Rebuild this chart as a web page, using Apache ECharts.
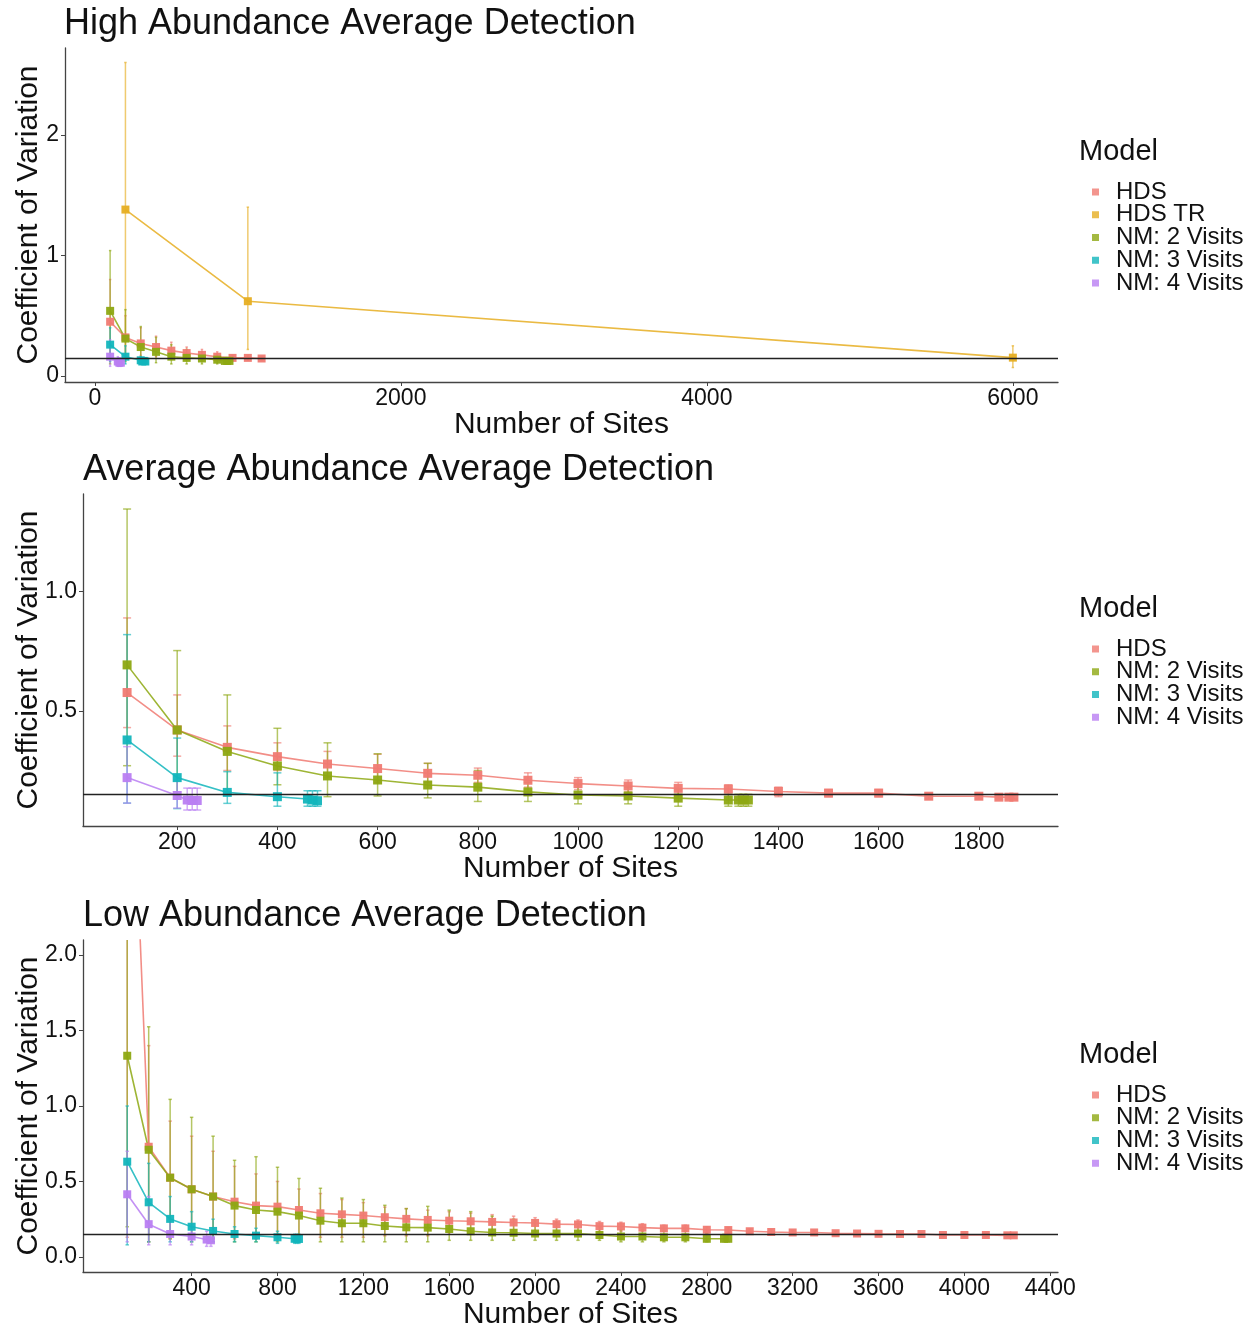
<!DOCTYPE html>
<html>
<head>
<meta charset="utf-8">
<script src="https://cdn.jsdelivr.net/npm/echarts@6/dist/echarts.min.js"></script>
<style>html,body{margin:0;padding:0;background:#fff;}#chart{width:1253px;height:1332px;}</style>
</head>
<body>
<div id="chart"></div>
<script>
// ---------- DATA ----------
const REF_CV = 0.15;
const panelTitles = ["High Abundance Average Detection", "Average Abundance Average Detection", "Low Abundance Average Detection"];
const xTicks1 = [0, 2000, 4000, 6000];
const yTicks1 = [0, 1, 2];
const xTicks2 = [200, 400, 600, 800, 1000, 1200, 1400, 1600, 1800];
const yTicks2 = [0.5, 1.0];
const xTicks3 = [400, 800, 1200, 1600, 2000, 2400, 2800, 3200, 3600, 4000, 4400];
const yTicks3 = [0.0, 0.5, 1.0, 1.5, 2.0];

// Panel 1: High abundance
const p1_HDS_x  = [100, 200, 300, 400, 500, 600, 700, 800, 900, 1000, 1090];
const p1_HDS_y  = [0.45, 0.32, 0.27, 0.24, 0.21, 0.19, 0.175, 0.16, 0.15, 0.15, 0.145];
const p1_HDS_lo = [0.15, 0.17, 0.17, 0.16, 0.15, 0.15, 0.14, 0.14, 0.13, 0.13, 0.13];
const p1_HDS_hi = [0.80, 0.50, 0.40, 0.33, 0.28, 0.24, 0.22, 0.20, 0.17, 0.17, 0.16];
const p1_TR_x  = [200, 1000, 6000];
const p1_TR_y  = [1.38, 0.62, 0.152];
const p1_TR_lo = [0.14, 0.22, 0.07];
const p1_TR_hi = [2.60, 1.40, 0.25];
const p1_NM2_x  = [100, 200, 300, 400, 500, 600, 700, 800, 850, 865, 880];
const p1_NM2_y  = [0.54, 0.31, 0.24, 0.20, 0.16, 0.15, 0.145, 0.135, 0.125, 0.125, 0.125];
const p1_NM2_lo = [0.10, 0.12, 0.12, 0.11, 0.10, 0.10, 0.10, 0.10, 0.10, 0.10, 0.10];
const p1_NM2_hi = [1.04, 0.55, 0.41, 0.32, 0.26, 0.22, 0.20, 0.18, 0.15, 0.15, 0.15];
const p1_NM3_x  = [100, 200, 300, 310, 320, 330];
const p1_NM3_y  = [0.26, 0.16, 0.13, 0.12, 0.125, 0.12];
const p1_NM3_lo = [0.12, 0.10, 0.10, 0.10, 0.10, 0.10];
const p1_NM3_hi = [0.40, 0.25, 0.16, 0.15, 0.15, 0.15];
const p1_NM4_x  = [100, 150, 160, 170];
const p1_NM4_y  = [0.16, 0.12, 0.11, 0.11];
const p1_NM4_lo = [0.08, 0.08, 0.08, 0.08];
const p1_NM4_hi = [0.30, 0.16, 0.15, 0.15];

// Panel 2: Average abundance
const p2_HDS_x  = [100, 200, 300, 400, 500, 600, 700, 800, 900, 1000, 1100, 1200, 1300, 1400, 1500, 1600, 1700, 1800, 1840, 1860, 1870];
const p2_HDS_y  = [0.577, 0.42, 0.347, 0.308, 0.277, 0.258, 0.238, 0.23, 0.209, 0.195, 0.185, 0.175, 0.172, 0.162, 0.155, 0.155, 0.142, 0.142, 0.138, 0.138, 0.138];
const p2_HDS_lo = [0.43, 0.31, 0.25, 0.25, 0.22, 0.20, 0.20, 0.20, 0.18, 0.17, 0.16, 0.15, 0.15, 0.14, 0.14, 0.14, 0.13, 0.13, 0.13, 0.13, 0.13];
const p2_HDS_hi = [0.89, 0.567, 0.437, 0.366, 0.33, 0.318, 0.28, 0.26, 0.24, 0.22, 0.21, 0.20, 0.19, 0.18, 0.17, 0.17, 0.155, 0.155, 0.15, 0.15, 0.15];
const p2_NM2_x  = [100, 200, 300, 400, 500, 600, 700, 800, 900, 1000, 1100, 1200, 1300, 1320, 1330, 1340];
const p2_NM2_y  = [0.693, 0.42, 0.33, 0.269, 0.227, 0.21, 0.189, 0.18, 0.16, 0.147, 0.143, 0.134, 0.126, 0.126, 0.126, 0.126];
const p2_NM2_lo = [0.27, 0.15, 0.16, 0.19, 0.14, 0.143, 0.135, 0.12, 0.12, 0.11, 0.11, 0.10, 0.10, 0.10, 0.10, 0.10];
const p2_NM2_hi = [1.347, 0.753, 0.567, 0.427, 0.366, 0.32, 0.28, 0.25, 0.20, 0.19, 0.18, 0.17, 0.15, 0.15, 0.15, 0.15];
const p2_NM3_x  = [100, 200, 300, 400, 460, 470, 480];
const p2_NM3_y  = [0.378, 0.22, 0.158, 0.14, 0.13, 0.126, 0.123];
const p2_NM3_lo = [0.113, 0.09, 0.112, 0.10, 0.10, 0.10, 0.10];
const p2_NM3_hi = [0.82, 0.386, 0.245, 0.24, 0.165, 0.165, 0.165];
const p2_NM4_x  = [100, 200, 220, 230, 240];
const p2_NM4_y  = [0.22, 0.145, 0.126, 0.124, 0.124];
const p2_NM4_lo = [0.113, 0.092, 0.084, 0.084, 0.084];
const p2_NM4_hi = [0.35, 0.21, 0.176, 0.176, 0.176];

// Panel 3: Low abundance
const p3_HDS_x  = [100, 200, 300, 400, 500, 600, 700, 800, 900, 1000, 1100, 1200, 1300, 1400, 1500, 1600, 1700, 1800, 1900, 2000, 2100, 2200, 2300, 2400, 2500, 2600, 2700, 2800, 2900, 3000, 3100, 3200, 3300, 3400, 3500, 3600, 3700, 3800, 3900, 4000, 4100, 4200, 4230];
const p3_HDS_y  = [4.2, 0.73, 0.525, 0.448, 0.40, 0.366, 0.34, 0.333, 0.311, 0.289, 0.282, 0.274, 0.263, 0.252, 0.245, 0.24, 0.236, 0.232, 0.228, 0.225, 0.217, 0.215, 0.204, 0.202, 0.194, 0.189, 0.189, 0.18, 0.178, 0.17, 0.165, 0.162, 0.162, 0.157, 0.155, 0.153, 0.152, 0.152, 0.145, 0.145, 0.145, 0.143, 0.143];
const p3_HDS_lo = [0.13, 0.10, 0.12, 0.12, 0.12, 0.12, 0.12, 0.12, 0.12, 0.13, 0.13, 0.13, 0.14, 0.14, 0.14, 0.15, 0.15, 0.16, 0.16, 0.17, 0.17, 0.17, 0.17, 0.17, 0.17, 0.17, 0.17, 0.16, 0.16, 0.16, 0.15, 0.15, 0.15, 0.145, 0.145, 0.145, 0.14, 0.14, 0.135, 0.135, 0.135, 0.135, 0.135];
const p3_HDS_hi = [9.0, 1.40, 0.90, 0.80, 0.70, 0.60, 0.55, 0.50, 0.45, 0.42, 0.38, 0.36, 0.33, 0.32, 0.31, 0.30, 0.29, 0.28, 0.27, 0.26, 0.25, 0.245, 0.235, 0.23, 0.22, 0.21, 0.21, 0.20, 0.195, 0.185, 0.18, 0.175, 0.175, 0.17, 0.165, 0.16, 0.16, 0.16, 0.155, 0.155, 0.155, 0.15, 0.15];
const p3_NM2_x  = [100, 200, 300, 400, 500, 600, 700, 800, 900, 1000, 1100, 1200, 1300, 1400, 1500, 1600, 1700, 1800, 1900, 2000, 2100, 2200, 2300, 2400, 2500, 2600, 2700, 2800, 2880, 2900];
const p3_NM2_y  = [1.333, 0.71, 0.525, 0.448, 0.40, 0.34, 0.311, 0.30, 0.274, 0.24, 0.223, 0.223, 0.205, 0.196, 0.194, 0.185, 0.17, 0.162, 0.16, 0.155, 0.155, 0.155, 0.145, 0.135, 0.135, 0.13, 0.13, 0.12, 0.12, 0.12];
const p3_NM2_lo = [0.20, 0.10, 0.12, 0.10, 0.10, 0.10, 0.10, 0.10, 0.10, 0.10, 0.10, 0.10, 0.10, 0.10, 0.10, 0.11, 0.11, 0.11, 0.11, 0.11, 0.11, 0.11, 0.11, 0.10, 0.10, 0.10, 0.10, 0.10, 0.10, 0.10];
const p3_NM2_hi = [2.40, 1.525, 1.044, 0.925, 0.80, 0.64, 0.664, 0.594, 0.52, 0.455, 0.39, 0.38, 0.342, 0.32, 0.335, 0.31, 0.30, 0.27, 0.25, 0.24, 0.23, 0.22, 0.20, 0.18, 0.18, 0.17, 0.17, 0.155, 0.15, 0.15];
const p3_NM3_x  = [100, 200, 300, 400, 500, 600, 700, 800, 880, 890, 900];
const p3_NM3_y  = [0.631, 0.362, 0.252, 0.20, 0.172, 0.152, 0.141, 0.13, 0.12, 0.12, 0.119];
const p3_NM3_lo = [0.08, 0.10, 0.10, 0.10, 0.10, 0.10, 0.10, 0.09, 0.09, 0.09, 0.09];
const p3_NM3_hi = [1.00, 0.62, 0.40, 0.30, 0.25, 0.20, 0.19, 0.17, 0.15, 0.15, 0.15];
const p3_NM4_x  = [100, 200, 300, 400, 470, 490];
const p3_NM4_y  = [0.415, 0.217, 0.152, 0.135, 0.115, 0.11];
const p3_NM4_lo = [0.10, 0.08, 0.08, 0.08, 0.07, 0.07];
const p3_NM4_hi = [0.70, 0.40, 0.25, 0.20, 0.17, 0.16];

// ---------- STYLE ----------
const FONT = "'Liberation Sans', Arial, sans-serif";
const COLORS = { "HDS": "#F07A72", "HDS TR": "#E6AE22", "NM: 2 Visits": "#8DA812", "NM: 3 Visits": "#12B5BC", "NM: 4 Visits": "#B97EF2" };
const CAP_HALF = 8;

const chart = echarts.init(document.getElementById('chart'), null, { renderer: 'canvas' });

const grids = [
  { left: 65, top: 48, width: 993, height: 334, outerBoundsMode: 'none', containLabel: false },
  { left: 83, top: 494, width: 975, height: 332, outerBoundsMode: 'none', containLabel: false },
  { left: 83, top: 940, width: 975, height: 332, outerBoundsMode: 'none', containLabel: false }
];
const xRanges = [[-195, 6295], [12, 1958], [-106, 4436]];
const yRanges = [[-0.05, 2.72], [0.017, 1.41], [-0.1, 2.1]];
const xTickSets = [xTicks1, xTicks2, xTicks3];
const yTickSets = [yTicks1, yTicks2, yTicks3];
const yFmt = [v => String(Math.round(v)), v => v.toFixed(1), v => v.toFixed(1)];
const yNameGap = [21, 39, 39];

const axisLineStyle = { lineStyle: { color: '#444', width: 1.3 } };
const xAxes = grids.map((g, i) => ({
  type: 'value', gridIndex: i, min: xRanges[i][0], max: xRanges[i][1],
  axisLine: { show: true, onZero: false, ...axisLineStyle },
  axisTick: { show: true, length: 4, customValues: xTickSets[i], lineStyle: { color: '#444' } },
  axisLabel: { customValues: xTickSets[i], formatter: v => String(v), color: '#111', fontSize: 23, fontFamily: FONT, margin: 5 },
  splitLine: { show: false },
  name: 'Number of Sites', nameLocation: 'middle', nameGap: 28, nameMoveOverlap: false,
  nameTextStyle: { fontSize: 30, color: '#111', fontFamily: FONT }
}));
const yAxes = grids.map((g, i) => ({
  type: 'value', gridIndex: i, min: yRanges[i][0], max: yRanges[i][1],
  axisLine: { show: true, onZero: false, ...axisLineStyle },
  axisTick: { show: true, length: 4, customValues: yTickSets[i], lineStyle: { color: '#444' } },
  axisLabel: { customValues: yTickSets[i], formatter: yFmt[i], color: '#111', fontSize: 23, fontFamily: FONT, margin: 6 },
  splitLine: { show: false },
  name: 'Coefficient of Variation', nameLocation: 'middle', nameGap: yNameGap[i], nameMoveOverlap: false,
  nameTextStyle: { fontSize: 30, color: '#111', fontFamily: FONT }
}));

const series = [];
function errRender(color) {
  return function (params, api) {
    const cs = params.coordSys;
    const top = cs.y, bot = cs.y + cs.height;
    const x = api.value(0), lo = api.value(1), hi = api.value(2);
    const pLo = api.coord([x, lo]), pHi = api.coord([x, hi]);
    const cL = api.coord([x - CAP_HALF, lo]), cR = api.coord([x + CAP_HALF, lo]);
    const hw = Math.max(1.2, (cR[0] - cL[0]) / 2);
    const yLo = Math.min(bot, Math.max(top, pLo[1]));
    const yHi = Math.min(bot, Math.max(top, pHi[1]));
    const st = { stroke: color, lineWidth: 1.5, opacity: 0.65 };
    const ch = [{ type: 'line', shape: { x1: pLo[0], y1: yLo, x2: pLo[0], y2: yHi }, style: st }];
    if (pLo[1] <= bot && pLo[1] >= top) ch.push({ type: 'line', shape: { x1: pLo[0] - hw, y1: pLo[1], x2: pLo[0] + hw, y2: pLo[1] }, style: st });
    if (pHi[1] <= bot && pHi[1] >= top) ch.push({ type: 'line', shape: { x1: pHi[0] - hw, y1: pHi[1], x2: pHi[0] + hw, y2: pHi[1] }, style: st });
    return { type: 'group', children: ch };
  };
}
function addModel(gi, name, xs, ys, los, his, withRef) {
  const color = COLORS[name];
  series.push({
    type: 'custom', name: name, xAxisIndex: gi, yAxisIndex: gi, z: 2, silent: true,
    itemStyle: { color: color },
    renderItem: errRender(color),
    data: xs.map((x, k) => [x, los[k], his[k]])
  });
  const s = {
    type: 'line', name: name, xAxisIndex: gi, yAxisIndex: gi, z: 3, clip: true,
    symbol: 'rect', symbolSize: gi === 1 ? 9 : 8, showSymbol: true,
    itemStyle: { color: color, opacity: 0.95 },
    lineStyle: { color: color, width: 1.6, opacity: 0.85 },
    emphasis: { disabled: true }, animation: false,
    data: xs.map((x, k) => [x, ys[k]])
  };
  if (withRef) {
    s.markLine = { silent: true, symbol: 'none', animation: false, label: { show: false },
      lineStyle: { color: '#222', type: 'solid', width: 1.4 }, data: [{ yAxis: REF_CV }] };
  }
  series.push(s);
}
addModel(0, 'HDS', p1_HDS_x, p1_HDS_y, p1_HDS_lo, p1_HDS_hi, true);
addModel(0, 'HDS TR', p1_TR_x, p1_TR_y, p1_TR_lo, p1_TR_hi, false);
addModel(0, 'NM: 2 Visits', p1_NM2_x, p1_NM2_y, p1_NM2_lo, p1_NM2_hi, false);
addModel(0, 'NM: 3 Visits', p1_NM3_x, p1_NM3_y, p1_NM3_lo, p1_NM3_hi, false);
addModel(0, 'NM: 4 Visits', p1_NM4_x, p1_NM4_y, p1_NM4_lo, p1_NM4_hi, false);
addModel(1, 'HDS', p2_HDS_x, p2_HDS_y, p2_HDS_lo, p2_HDS_hi, true);
addModel(1, 'NM: 2 Visits', p2_NM2_x, p2_NM2_y, p2_NM2_lo, p2_NM2_hi, false);
addModel(1, 'NM: 3 Visits', p2_NM3_x, p2_NM3_y, p2_NM3_lo, p2_NM3_hi, false);
addModel(1, 'NM: 4 Visits', p2_NM4_x, p2_NM4_y, p2_NM4_lo, p2_NM4_hi, false);
addModel(2, 'HDS', p3_HDS_x, p3_HDS_y, p3_HDS_lo, p3_HDS_hi, true);
addModel(2, 'NM: 2 Visits', p3_NM2_x, p3_NM2_y, p3_NM2_lo, p3_NM2_hi, false);
addModel(2, 'NM: 3 Visits', p3_NM3_x, p3_NM3_y, p3_NM3_lo, p3_NM3_hi, false);
addModel(2, 'NM: 4 Visits', p3_NM4_x, p3_NM4_y, p3_NM4_lo, p3_NM4_hi, false);

const legendTops = [175, 632, 1078];
const modelTops = [137, 594, 1040];
const legendSets = [
  ['HDS', 'HDS TR', 'NM: 2 Visits', 'NM: 3 Visits', 'NM: 4 Visits'],
  ['HDS', 'NM: 2 Visits', 'NM: 3 Visits', 'NM: 4 Visits'],
  ['HDS', 'NM: 2 Visits', 'NM: 3 Visits', 'NM: 4 Visits']
];
const legends = legendSets.map((names, i) => ({
  orient: 'vertical', left: 1087, top: legendTops[i], icon: 'rect',
  itemWidth: 7, itemHeight: 7, itemGap: -1.25, selectedMode: false,
  data: names.map(n => ({ name: n, itemStyle: { color: COLORS[n], opacity: 0.8 } })),
  textStyle: { fontSize: 24, color: '#111', fontFamily: FONT, padding: [0, 0, 0, 12] }
}));

const titleLefts = [64, 83, 83];
const titleTops = [6, 452, 898];
const titles = panelTitles.map((t, i) => ({
  text: t, left: titleLefts[i], top: titleTops[i], padding: 0,
  textStyle: { fontSize: 36, fontWeight: 'normal', color: '#111', fontFamily: FONT }
})).concat(modelTops.map(t => ({
  text: 'Model', left: 1079, top: t, padding: 0,
  textStyle: { fontSize: 29, fontWeight: 'normal', color: '#111', fontFamily: FONT }
})));

chart.setOption({
  backgroundColor: '#fff',
  animation: false,
  title: titles,
  legend: legends,
  grid: grids,
  xAxis: xAxes,
  yAxis: yAxes,
  series: series
});
</script>
</body>
</html>
